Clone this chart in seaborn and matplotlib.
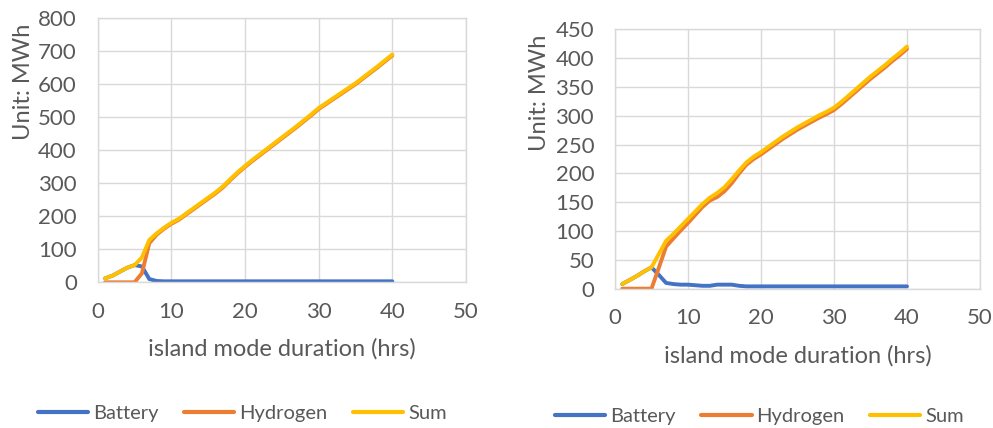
import matplotlib
matplotlib.use("Agg")
import matplotlib.pyplot as plt
from matplotlib.lines import Line2D
import seaborn as sns
import pandas as pd

# island mode duration (hrs)
hours = list(range(1, 41))

# Case A (left panel), MWh
battery_a = [12, 20, 32, 44, 52, 48, 10, 4] + [3] * 32
hydrogen_a = [0, 0, 0, 0, 0, 27, 118, 144, 162, 177, 189, 205, 221, 237, 253,
              269, 287, 309, 330, 349, 367, 384, 401, 418, 435, 452, 469, 487,
              505, 524, 539, 554, 569, 584, 599, 616, 633, 650, 668, 686]
sum_a = [12, 20, 32, 44, 52, 75, 128, 148, 165, 180, 192, 208, 224, 240, 256,
         272, 290, 312, 333, 352, 370, 387, 404, 421, 438, 455, 472, 490, 508,
         527, 542, 557, 572, 587, 602, 619, 636, 653, 671, 689]

# Case B (right panel), MWh
battery_b = [8, 15, 22, 30, 37, 24, 10, 8, 7, 7, 6, 5, 5, 7, 7, 7, 5] + [4] * 23
hydrogen_b = [0, 0, 0, 0, 0, 36, 73, 87, 101, 114, 128, 142, 153, 159, 169,
              183, 200, 215, 225, 233, 242, 251, 260, 268, 276, 283, 290, 297,
              303, 310, 320, 331, 342, 353, 364, 374, 384, 395, 405, 416]
sum_b = [8, 15, 22, 30, 37, 60, 83, 95, 108, 121, 134, 147, 158, 166, 176,
         190, 205, 219, 229, 237, 246, 255, 264, 272, 280, 287, 294, 301, 307,
         314, 324, 335, 346, 357, 368, 378, 388, 399, 409, 420]

series_names = ["Battery", "Hydrogen", "Sum"]
colors = {"Battery": "#4472C4", "Hydrogen": "#ED7D31", "Sum": "#FFC000"}

x_ticks = [0, 10, 20, 30, 40, 50]
y_ticks_a = [0, 100, 200, 300, 400, 500, 600, 700, 800]
y_ticks_b = [0, 50, 100, 150, 200, 250, 300, 350, 400, 450]

x_title = "island mode duration (hrs)"
y_title = "Unit: MWh"


def long_frame(bat, hyd, tot):
    rows = []
    for name, vals in zip(series_names, [bat, hyd, tot]):
        for h, v in zip(hours, vals):
            rows.append({"hours": h, "MWh": v, "series": name})
    return pd.DataFrame(rows)


sns.set_style("white")
plt.rcParams["font.family"] = ["Lato", "DejaVu Sans"]
text_color = "#595959"
grid_color = "#D9D9D9"

fig = plt.figure(figsize=(9.93, 4.28), dpi=100)
ax_a = fig.add_axes([0.0984, 0.3404, 0.3709, 0.6182])
ax_b = fig.add_axes([0.6193, 0.3255, 0.3676, 0.6060])

panels = [
    (ax_a, long_frame(battery_a, hydrogen_a, sum_a), y_ticks_a, (-0.173, 0.757), (0.2442, 0.035)),
    (ax_b, long_frame(battery_b, hydrogen_b, sum_b), y_ticks_b, (-0.178, 0.756), (0.7649, 0.026)),
]

for ax, df, yt, ylab_pos, leg_pos in panels:
    sns.lineplot(data=df, x="hours", y="MWh", hue="series", hue_order=series_names,
                 palette=colors, linewidth=2.8, ax=ax, legend=False,
                 solid_capstyle="round", solid_joinstyle="round")
    ax.set_xlim(0, 50)
    ax.set_ylim(yt[0], yt[-1])
    ax.set_xticks(x_ticks)
    ax.set_yticks(yt)
    ax.grid(True, color=grid_color, linewidth=1.0)
    ax.set_axisbelow(True)
    for sp in ax.spines.values():
        sp.set_color(grid_color)
        sp.set_linewidth(1.0)
    ax.tick_params(axis="both", length=0, labelsize=16, colors=text_color)
    ax.tick_params(axis="y", pad=15)
    ax.tick_params(axis="x", pad=14)
    ax.set_xlabel(x_title, fontsize=17, color=text_color, labelpad=12)
    ax.set_ylabel(y_title, fontsize=17, color=text_color)
    ax.yaxis.set_label_coords(*ylab_pos)

    handles = [Line2D([], [], color=colors[n], linewidth=3.0) for n in series_names]
    fig.legend(handles, series_names, loc="center", bbox_to_anchor=leg_pos, ncol=3,
               frameon=False, fontsize=14.5, handlelength=2.5, handletextpad=0.25,
               columnspacing=1.25, labelcolor=text_color)

fig.savefig("out.png", dpi=100, facecolor="white")
